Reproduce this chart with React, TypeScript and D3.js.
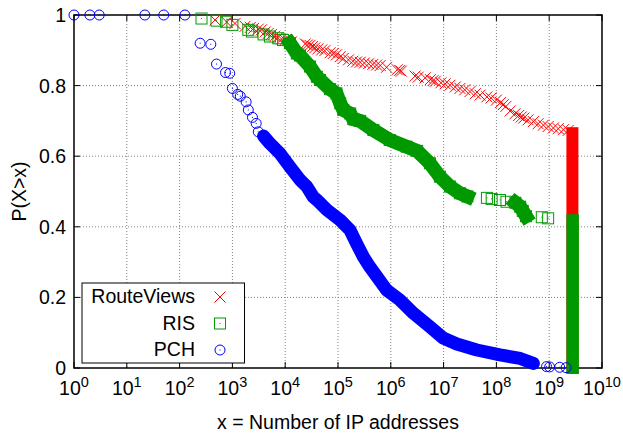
import React from 'react';
import * as d3 from 'd3';

// CCDF of the number of IP addresses seen per peer, three collectors.
// x = number of IP addresses, y = P(X > x)

const routeViewsX = [
  470, 780, 1120, 1740, 2190, 2510, 3090, 3550, 4170, 4790, 5500, 6310, 7240, 8510,
  1.0e4, 1.32e4, 2.4e4, 2.63e4, 2.95e4, 3.31e4, 3.63e4, 4.17e4, 4.9e4, 5.62e4, 7.08e4,
  8.13e4, 9.33e4, 1.1e5, 1.26e5, 1.58e5, 1.91e5, 2.24e5, 2.63e5, 3.16e5, 3.8e5, 4.57e5,
  5.37e5, 6.31e5, 8.32e5, 1.32e6, 1.48e6, 1.58e6, 2.88e6, 3.31e6, 4.47e6, 5.62e6, 6.31e6,
  6.92e6, 8.91e6, 1.07e7, 1.32e7, 1.66e7, 2.04e7, 2.51e7, 3.16e7, 3.98e7, 4.9e7, 6.61e7,
  7.94e7, 1.0e8, 1.2e8, 1.35e8, 1.51e8, 1.82e8, 2.24e8, 2.63e8, 2.95e8, 3.31e8, 3.98e8,
  5.01e8, 6.17e8, 7.76e8, 9.55e8, 1.2e9, 1.48e9, 1.86e9, 2.29e9,
];
const routeViewsY = [
  0.986, 0.98, 0.976, 0.968, 0.965, 0.962, 0.96, 0.958, 0.952, 0.948, 0.945, 0.94, 0.936, 0.932,
  0.929, 0.924, 0.918, 0.915, 0.914, 0.911, 0.907, 0.904, 0.901, 0.899, 0.893,
  0.891, 0.887, 0.882, 0.877, 0.873, 0.869, 0.867, 0.866, 0.864, 0.862, 0.86,
  0.858, 0.857, 0.852, 0.845, 0.843, 0.841, 0.827, 0.824, 0.822, 0.817, 0.814,
  0.812, 0.808, 0.805, 0.801, 0.796, 0.792, 0.788, 0.783, 0.777, 0.773, 0.768,
  0.765, 0.759, 0.752, 0.746, 0.741, 0.728, 0.72, 0.715, 0.711, 0.708, 0.703,
  0.698, 0.692, 0.688, 0.684, 0.68, 0.678, 0.675, 0.673,
];

const risX = [
  260, 500, 760, 1000, 2000, 2340, 3890, 5130, 7410, 9120, 1.23e4,
  1.66e4, 1.91e4, 2.95e4, 3.98e4, 4.57e4, 7.08e4, 9.33e4, 1.1e5, 1.26e5, 1.7e5, 1.95e5,
  2.63e5, 4.68e5, 9.55e5, 2.0e6, 3.16e6, 5.5e6, 8.51e6, 1.32e7, 2.04e7, 2.82e7,
  6.61e7, 8.13e7, 1.17e8, 1.55e8, 2.29e8, 2.82e8, 3.16e8, 3.63e8, 7.24e8, 9.55e8,
];
const risY = [
  0.99, 0.984, 0.981, 0.972, 0.958, 0.953, 0.945, 0.939, 0.934, 0.929, 0.92,
  0.891, 0.885, 0.854, 0.825, 0.816, 0.79, 0.778, 0.75, 0.731, 0.721, 0.705,
  0.7, 0.674, 0.646, 0.627, 0.615, 0.58, 0.542, 0.514, 0.495, 0.486,
  0.482, 0.479, 0.476, 0.471, 0.468, 0.457, 0.445, 0.43, 0.427, 0.424,
];

const pchX = [
  1, 2, 3, 22, 50, 126, 245, 390, 500, 740, 890, 1000, 1260, 1410, 1820, 2000, 2400, 2820, 3090,
  3890, 5130, 7940, 1.23e4, 1.91e4, 2.57e4, 3.39e4, 3.98e4, 6.17e4, 1.1e5, 1.7e5, 2.24e5,
  3.02e5, 3.98e5, 8.32e5, 1.48e6, 2.69e6, 5.5e6, 9.8e6, 1.78e7, 4.27e7, 1.17e8, 2.82e8, 5.01e8,
  8.9e8, 1.02e9, 1.58e9, 2.09e9,
];
const pchY = [
  1, 1, 1, 1, 1, 1, 0.92, 0.917, 0.861, 0.837, 0.835, 0.792, 0.775, 0.77, 0.754, 0.731, 0.71, 0.693, 0.669,
  0.657, 0.636, 0.608, 0.57, 0.533, 0.514, 0.485, 0.476, 0.448, 0.419, 0.39, 0.353,
  0.315, 0.287, 0.221, 0.193, 0.155, 0.117, 0.085, 0.068, 0.051, 0.037, 0.027, 0.013,
  0.004, 0.003, 0.002, 0.001,
];

// x-ranges where the points are so dense they merge into a solid band
const risDense = [[1.23e4, 2.82e7], [2.29e8, 3.63e8]];
const pchDense = [[3890, 5.01e8]];

// the mass of peers sitting at the largest value (full table)
const tailX = 2.75e9;
const routeViewsTailTop = 0.668;
const risTailTop = 0.42;

const xExponents = [0, 1, 2, 3, 4, 5, 6, 7, 8, 9, 10];
const yTicks = [0, 0.2, 0.4, 0.6, 0.8, 1];
const yTickLabels = ['0', '0.2', '0.4', '0.6', '0.8', '1'];

const legendNames = ['RouteViews', 'RIS', 'PCH'];

const RED = '#ff0000';
const GREEN = '#009a00';
const BLUE = '#0000ff';
const FONT = '"Liberation Sans", Arial, Helvetica, sans-serif';

const XMark = ({ cx, cy }) => (
  <path d={`M${cx - 5.5},${cy - 5.5}L${cx + 5.5},${cy + 5.5}M${cx - 5.5},${cy + 5.5}L${cx + 5.5},${cy - 5.5}`}
    stroke={RED} strokeWidth={1} fill="none" />
);
const SquareMark = ({ cx, cy }) => (
  <g>
    <rect x={cx - 5.5} y={cy - 5.5} width={11} height={11} fill="none" stroke={GREEN} strokeWidth={1} />
    <rect x={cx - 0.5} y={cy - 0.5} width={1} height={1} fill={GREEN} />
  </g>
);
const CircleMark = ({ cx, cy }) => (
  <g>
    <circle cx={cx} cy={cy} r={5} fill="none" stroke={BLUE} strokeWidth={1} />
    <rect x={cx - 0.5} y={cy - 0.5} width={1} height={1} fill={BLUE} />
  </g>
);

export default function App() {
  const left = 74, right = 602, top = 15, bottom = 368;
  const x = d3.scaleLog().domain([1, 1e10]).range([left, right]);
  const y = d3.scaleLinear().domain([0, 1]).range([bottom, top]);
  const line = d3.line().x(d => x(d[0])).y(d => y(d[1]));

  const pts = (xs, ys) => xs.map((v, i) => [v, ys[i]]);
  const routeViews = pts(routeViewsX, routeViewsY);
  const ris = pts(risX, risY);
  const pch = pts(pchX, pchY);

  const bands = (data, ranges) =>
    ranges.map(([a, b]) => data.filter(d => d[0] >= a && d[0] <= b));

  return (
    <svg width={623} height={433} style={{ position: 'absolute', left: 0, top: 0, background: '#fff' }}
      fontFamily={FONT}>
      <rect width={623} height={433} fill="#fff" />

      {/* grid */}
      <g stroke="#808080" strokeWidth={1} strokeDasharray="1,2">
        {xExponents.slice(1, -1).map(e => (
          <line key={'gx' + e} x1={x(10 ** e)} x2={x(10 ** e)} y1={top} y2={bottom} />
        ))}
        {yTicks.slice(1, -1).map(t => (
          <line key={'gy' + t} x1={left} x2={right} y1={y(t)} y2={y(t)} />
        ))}
      </g>

      {/* ticks */}
      <g stroke="#000" strokeWidth={1}>
        {xExponents.map(e => (
          <g key={'tx' + e}>
            <line x1={x(10 ** e)} x2={x(10 ** e)} y1={bottom} y2={bottom - 6} />
            <line x1={x(10 ** e)} x2={x(10 ** e)} y1={top} y2={top + 6} />
          </g>
        ))}
        {yTicks.map(t => (
          <g key={'ty' + t}>
            <line x1={left} x2={left + 6} y1={y(t)} y2={y(t)} />
            <line x1={right} x2={right - 6} y1={y(t)} y2={y(t)} />
          </g>
        ))}
      </g>
      <rect x={left} y={top} width={right - left} height={bottom - top} fill="none" stroke="#000" strokeWidth={1.5} />

      {/* tick labels */}
      <g fontSize={19.5} fill="#000">
        {yTicks.map((t, i) => (
          <text key={'ly' + t} x={66} y={y(t) + 7} textAnchor="end">{yTickLabels[i]}</text>
        ))}
        {xExponents.map(e => (
          <text key={'lx' + e} x={x(10 ** e)} y={395} textAnchor="middle">
            <tspan>10</tspan>
            <tspan dy={-8} fontSize={14.5}>{e}</tspan>
          </text>
        ))}
      </g>

      {/* RouteViews */}
      <rect x={x(tailX) - 6} y={y(routeViewsTailTop) - 5} width={12}
        height={y(0) - y(routeViewsTailTop) + 10} fill={RED} />
      {routeViews.map((d, i) => <XMark key={'rv' + i} cx={x(d[0])} cy={y(d[1])} />)}

      {/* RIS */}
      {bands(ris, risDense).map((b, i) => (
        <path key={'rb' + i} d={line(b)} fill="none" stroke={GREEN} strokeWidth={14}
          strokeLinejoin="miter" strokeLinecap="square" />
      ))}
      <rect x={x(tailX) - 6} y={y(risTailTop) - 5.5} width={12.5}
        height={y(0) - y(risTailTop) + 11.5} fill={GREEN} />
      {ris.map((d, i) => <SquareMark key={'ri' + i} cx={x(d[0])} cy={y(d[1])} />)}

      {/* PCH */}
      {bands(pch, pchDense).map((b, i) => (
        <path key={'pb' + i} d={line(b)} fill="none" stroke={BLUE} strokeWidth={13}
          strokeLinejoin="round" strokeLinecap="round" />
      ))}
      {pch.map((d, i) => <CircleMark key={'pc' + i} cx={x(d[0])} cy={y(d[1])} />)}

      {/* legend */}
      <rect x={82} y={283} width={162.5} height={80} fill="#fff" stroke="#000" strokeWidth={1} />
      {legendNames.map((name, i) => (
        <text key={name} x={195} y={303 + i * 26.7} textAnchor="end" fontSize={19.5} fill="#000">{name}</text>
      ))}
      <XMark cx={220} cy={297} />
      <SquareMark cx={220} cy={323.5} />
      <CircleMark cx={220} cy={350} />

      {/* axis titles */}
      <text x={(left + right) / 2} y={429} textAnchor="middle" fontSize={19.5} fill="#000">
        x = Number of IP addresses
      </text>
      <text transform={`translate(26,${(top + bottom) / 2}) rotate(-90)`} textAnchor="middle"
        fontSize={19.5} fill="#000">P(X&gt;x)</text>
    </svg>
  );
}
